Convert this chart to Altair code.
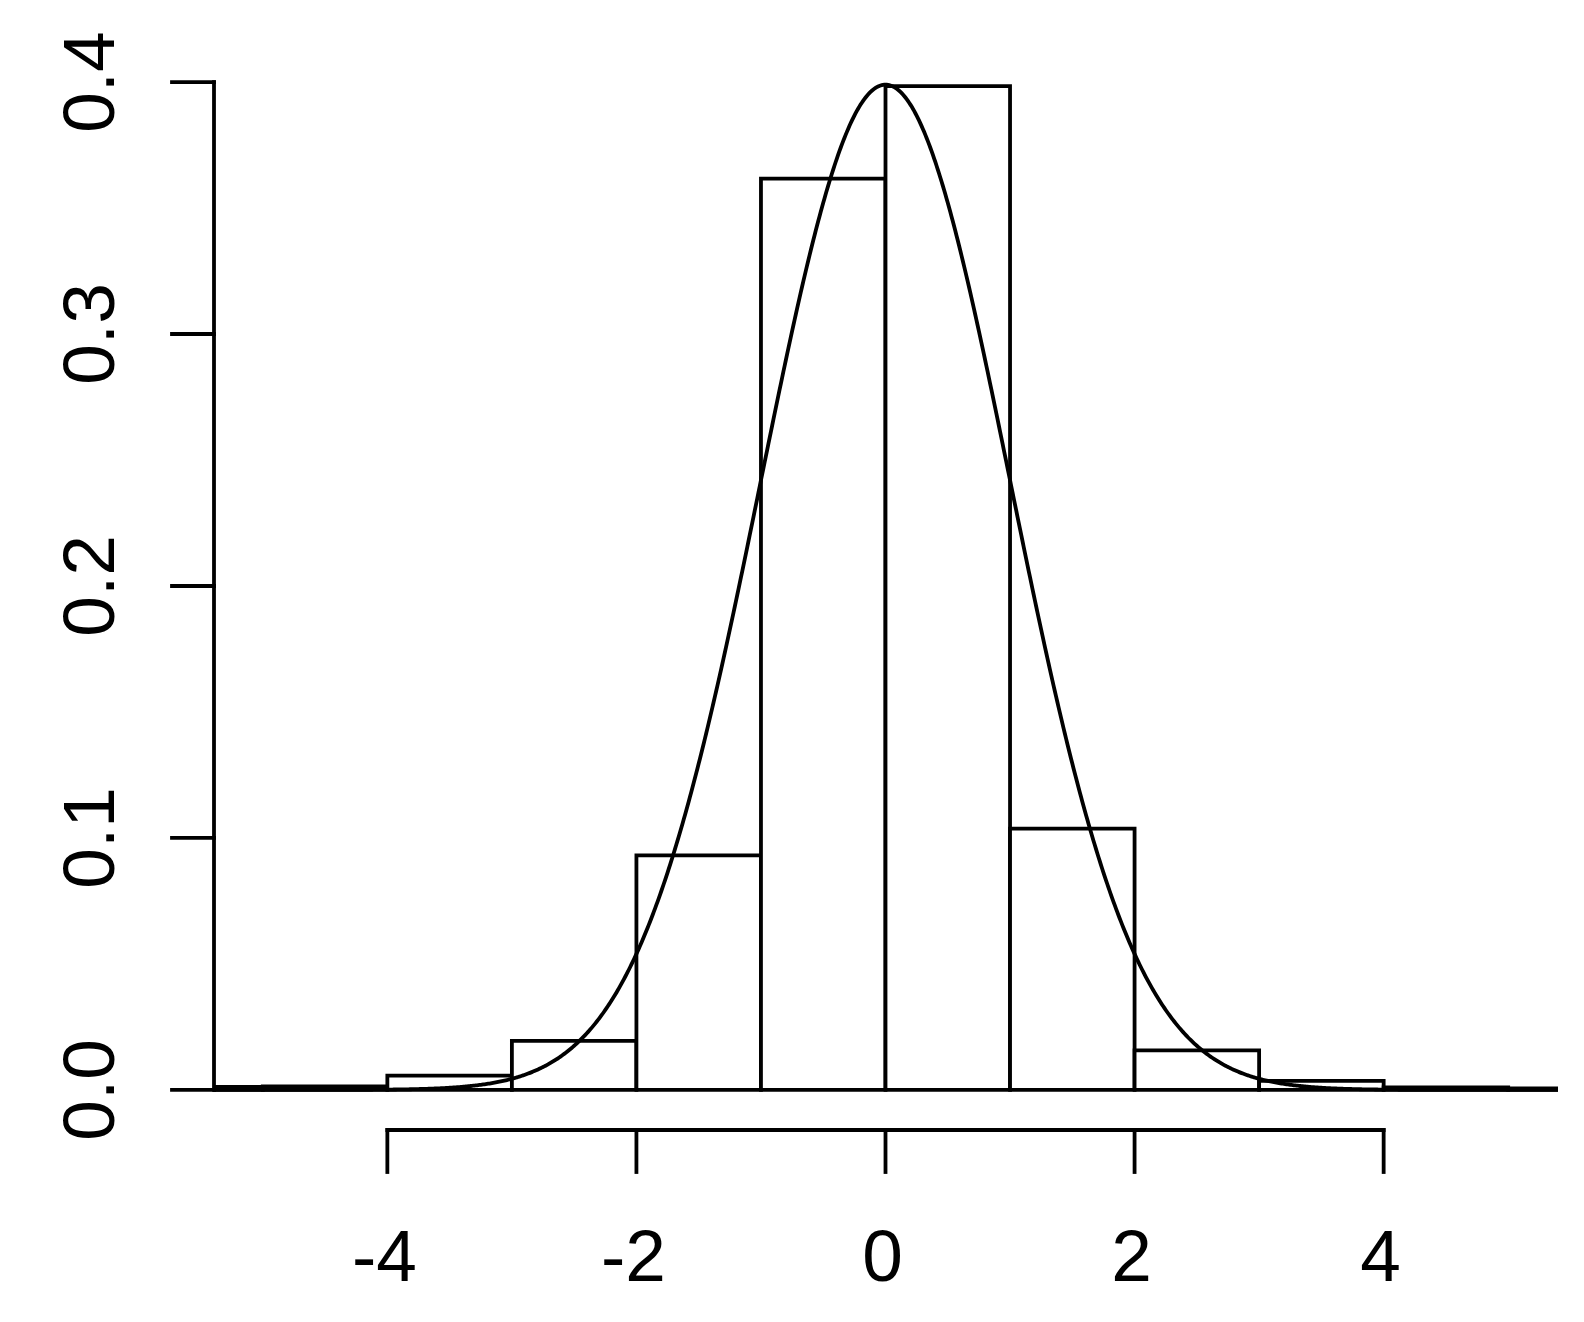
import altair as alt
import pandas as pd

# Histogram bins (density scale)
bin_start = [-6, -5, -4, -3, -2, -1, 0, 1, 2, 3, 4, 5]
bin_end = [-5, -4, -3, -2, -1, 0, 1, 2, 3, 4, 5, 6]
density = [0.0012, 0.0014, 0.0057, 0.0195, 0.0931, 0.3617, 0.3984, 0.1037, 0.0157, 0.0036, 0.0010, 0.0006]

# Axis ticks and labels
x_ticks = [-4, -2, 0, 2, 4]
x_labels = ["-4", "-2", "0", "2", "4"]
y_ticks = [0.0, 0.1, 0.2, 0.3, 0.4]
y_labels = ["0.0", "0.1", "0.2", "0.3", "0.4"]

# Normal density curve parameters
curve_mean = 0.0
curve_sd = 1.0

x_limits = [-5.4, 5.4]
y_limits = [-0.0159, 0.4143]

W, H = 1345, 1084
LW = 3.8
FONT = "Liberation Sans"
FS = 73

xs = alt.Scale(domain=x_limits, nice=False, zero=False)
ys = alt.Scale(domain=y_limits, nice=False, zero=False)

bars_df = pd.DataFrame({"start": bin_start, "end": bin_end, "density": density})
bars = alt.Chart(bars_df).mark_rect(
    fill="white", stroke="black", strokeWidth=LW, clip=True
).encode(
    x=alt.X("start:Q", scale=xs, axis=None),
    x2="end:Q",
    y=alt.Y("density:Q", scale=ys, axis=None),
    y2=alt.datum(0),
)

curve = alt.Chart(alt.sequence(x_limits[0], x_limits[1] + 0.001, 0.01, as_="x")).transform_calculate(
    y=f"exp(-pow(datum.x - ({curve_mean}), 2) / (2 * {curve_sd} * {curve_sd})) / ({curve_sd} * sqrt(2 * PI))"
).mark_line(color="black", strokeWidth=LW, clip=True).encode(
    x=alt.X("x:Q", scale=xs, axis=None),
    y=alt.Y("y:Q", scale=ys, axis=None),
)

yt = pd.DataFrame({"v": y_ticks, "label": y_labels})
y_dom = alt.Chart(yt).mark_rule(color="black", strokeWidth=LW, strokeCap="square").encode(
    x=alt.value(1),
    y=alt.Y("min(v):Q", scale=ys, axis=None),
    y2="max(v):Q",
)
y_tk = alt.Chart(yt).mark_rule(color="black", strokeWidth=LW, strokeCap="square").encode(
    x=alt.value(1),
    x2=alt.value(-41),
    y=alt.Y("v:Q", scale=ys, axis=None),
)
y_txt = alt.Chart(yt).mark_text(
    angle=270, font=FONT, fontSize=FS, align="center", baseline="middle", color="black"
).encode(
    x=alt.value(-121),
    y=alt.Y("v:Q", scale=ys, axis=None),
    text="label:N",
)

xt = pd.DataFrame({"v": x_ticks, "label": x_labels})
x_dom = alt.Chart(xt).mark_rule(color="black", strokeWidth=LW, strokeCap="square").encode(
    y=alt.value(H),
    x=alt.X("min(v):Q", scale=xs, axis=None),
    x2="max(v):Q",
)
x_tk = alt.Chart(xt).mark_rule(color="black", strokeWidth=LW, strokeCap="square").encode(
    y=alt.value(H),
    y2=alt.value(H + 42),
    x=alt.X("v:Q", scale=xs, axis=None),
)
x_txt = alt.Chart(xt).mark_text(
    font=FONT, fontSize=FS, align="center", baseline="middle", color="black", dx=-3
).encode(
    y=alt.value(1213),
    x=alt.X("v:Q", scale=xs, axis=None),
    text="label:N",
)

chart = alt.layer(bars, curve, y_dom, y_tk, y_txt, x_dom, x_tk, x_txt).properties(
    width=W,
    height=H,
    padding={"left": 205, "top": 38, "right": 10, "bottom": 176},
    autosize=alt.AutoSizeParams(type="none"),
    background="white",
).configure_view(stroke=None)

chart.save("out.html", embed_options={"renderer": "svg", "actions": False})
